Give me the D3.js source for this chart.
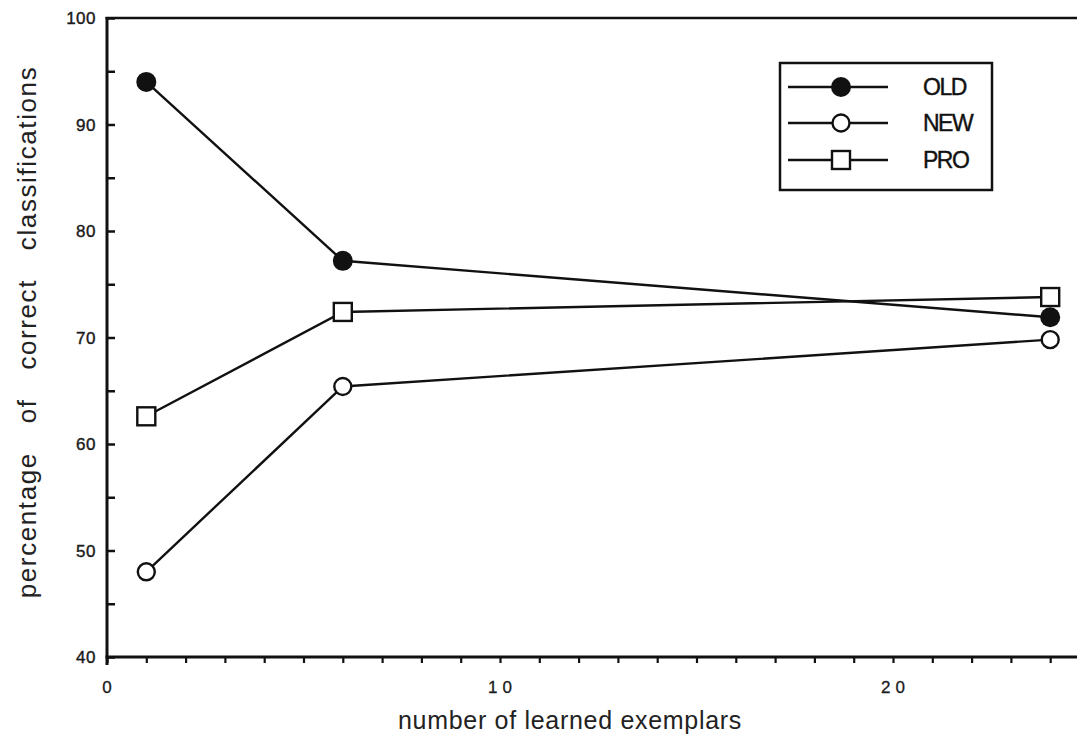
<!DOCTYPE html>
<html>
<head>
<meta charset="utf-8">
<script src="https://cdn.jsdelivr.net/npm/d3@7"></script>
<style>
  html, body { margin: 0; padding: 0; background: #fff; }
  svg { display: block; font-family: "Liberation Sans", Arial, sans-serif; }
</style>
</head>
<body>
<div id="chart"></div>
<script>
// ---------- Data ----------
const exemplars = [1, 6, 24];          // x values
const oldVals = [94.0, 77.2, 71.9];     // OLD
const newVals = [48.0, 65.4, 69.8];     // NEW
const proVals = [62.6, 72.4, 73.8];     // PRO
const seriesNames = ['OLD', 'NEW', 'PRO'];
const xTickLabels = [0, 10, 20];
const yTickLabels = [40, 50, 60, 70, 80, 90, 100];

const width = 1077, height = 736;

const x = d3.scaleLinear().domain([0, 25]).range([107, 107 + 25 * 39.3]);
const y = d3.scaleLinear().domain([40, 100]).range([657, 18]);

const svg = d3.select('#chart').append('svg')
  .attr('width', width)
  .attr('height', height);

// ---------- Axes ----------
// x axis: small outward ticks every unit
const xAxis = d3.axisBottom(x)
  .tickValues(d3.range(0, 26))
  .tickSize(6)
  .tickFormat('');
const gx = svg.append('g').attr('transform', `translate(0,${y(40)})`).call(xAxis);
gx.select('.domain').remove();
gx.selectAll('.tick line').attr('stroke', '#111').attr('stroke-width', 2.2);

svg.append('line')
  .attr('x1', x(0) - 1.5).attr('x2', width)
  .attr('y1', y(40)).attr('y2', y(40))
  .attr('stroke', '#111').attr('stroke-width', 3);

// top border
svg.append('line')
  .attr('x1', x(0) - 1.5).attr('x2', width)
  .attr('y1', y(100)).attr('y2', y(100))
  .attr('stroke', '#111').attr('stroke-width', 2.5);

// y axis: inward ticks every 5
const yAxis = d3.axisRight(y)
  .tickValues(d3.range(40, 101, 5))
  .tickSize(8)
  .tickFormat('');
const gy = svg.append('g').attr('transform', `translate(${x(0)},0)`).call(yAxis);
gy.select('.domain').remove();
gy.selectAll('.tick line').attr('stroke', '#111').attr('stroke-width', 2.5);

svg.append('line')
  .attr('x1', x(0)).attr('x2', x(0))
  .attr('y1', y(100) - 1).attr('y2', y(40) + 8)
  .attr('stroke', '#111').attr('stroke-width', 3);

// tick labels
svg.append('g').selectAll('text')
  .data(yTickLabels)
  .join('text')
  .attr('x', 96)
  .attr('y', d => y(d))
  .attr('dy', '0.36em')
  .attr('text-anchor', 'end')
  .attr('font-size', 17)
  .attr('letter-spacing', 0.5)
  .attr('fill', '#1a1a1a')
  .attr('stroke', '#1a1a1a')
  .attr('stroke-width', 0.4)
  .text(d => d);

svg.append('g').selectAll('text')
  .data(xTickLabels)
  .join('text')
  .attr('x', d => x(d) + 2.5)
  .attr('y', 693)
  .attr('text-anchor', 'middle')
  .attr('font-size', 17)
  .attr('letter-spacing', 5)
  .attr('fill', '#1a1a1a')
  .attr('stroke', '#1a1a1a')
  .attr('stroke-width', 0.3)
  .text(d => d);

// axis titles
svg.append('text')
  .attr('x', 570)
  .attr('y', 729)
  .attr('text-anchor', 'middle')
  .attr('font-size', 25)
  .attr('letter-spacing', 0.7)
  .attr('fill', '#222')
  .text('number of learned exemplars');

svg.append('text')
  .attr('transform', 'translate(36,332) rotate(-90)')
  .attr('text-anchor', 'middle')
  .attr('font-size', 26)
  .attr('letter-spacing', 1.6)
  .attr('word-spacing', 20)
  .attr('fill', '#222')
  .text('percentage of correct classifications');

// ---------- Series ----------
const series = [
  { name: seriesNames[0], values: oldVals, marker: 'filled' },
  { name: seriesNames[1], values: newVals, marker: 'open' },
  { name: seriesNames[2], values: proVals, marker: 'square' }
];

const line = d3.line()
  .x((d, i) => x(exemplars[i]))
  .y(d => y(d));

svg.append('g').selectAll('path')
  .data(series)
  .join('path')
  .attr('d', s => line(s.values))
  .attr('fill', 'none')
  .attr('stroke', '#111')
  .attr('stroke-width', 2.4);

function drawMarker(g, kind, cx, cy) {
  if (kind === 'filled') {
    g.append('circle').attr('cx', cx).attr('cy', cy).attr('r', 10)
      .attr('fill', '#111');
  } else if (kind === 'open') {
    g.append('circle').attr('cx', cx).attr('cy', cy).attr('r', 8.5)
      .attr('fill', '#fff').attr('stroke', '#111').attr('stroke-width', 2.4);
  } else {
    g.append('rect').attr('x', cx - 9).attr('y', cy - 9)
      .attr('width', 18).attr('height', 18)
      .attr('fill', '#fff').attr('stroke', '#111').attr('stroke-width', 2.4);
  }
}

const markers = svg.append('g');
series.forEach(s => {
  s.values.forEach((v, i) => drawMarker(markers, s.marker, x(exemplars[i]), y(v)));
});

// ---------- Legend ----------
const legend = svg.append('g');
legend.append('rect')
  .attr('x', 780).attr('y', 63)
  .attr('width', 212).attr('height', 127)
  .attr('fill', '#fff').attr('stroke', '#111').attr('stroke-width', 2.5);

const legendRows = [87, 123, 160];
series.forEach((s, i) => {
  const ly = legendRows[i];
  legend.append('line')
    .attr('x1', 788).attr('x2', 888)
    .attr('y1', ly).attr('y2', ly)
    .attr('stroke', '#111').attr('stroke-width', 2.4);
  drawMarker(legend, s.marker, 841, ly);
  legend.append('text')
    .attr('x', 923).attr('y', ly)
    .attr('dy', '0.36em')
    .attr('font-size', 23)
    .attr('letter-spacing', -1.5)
    .attr('fill', '#111')
    .attr('stroke', '#111')
    .attr('stroke-width', 0.4)
    .text(s.name);
});
</script>
</body>
</html>
